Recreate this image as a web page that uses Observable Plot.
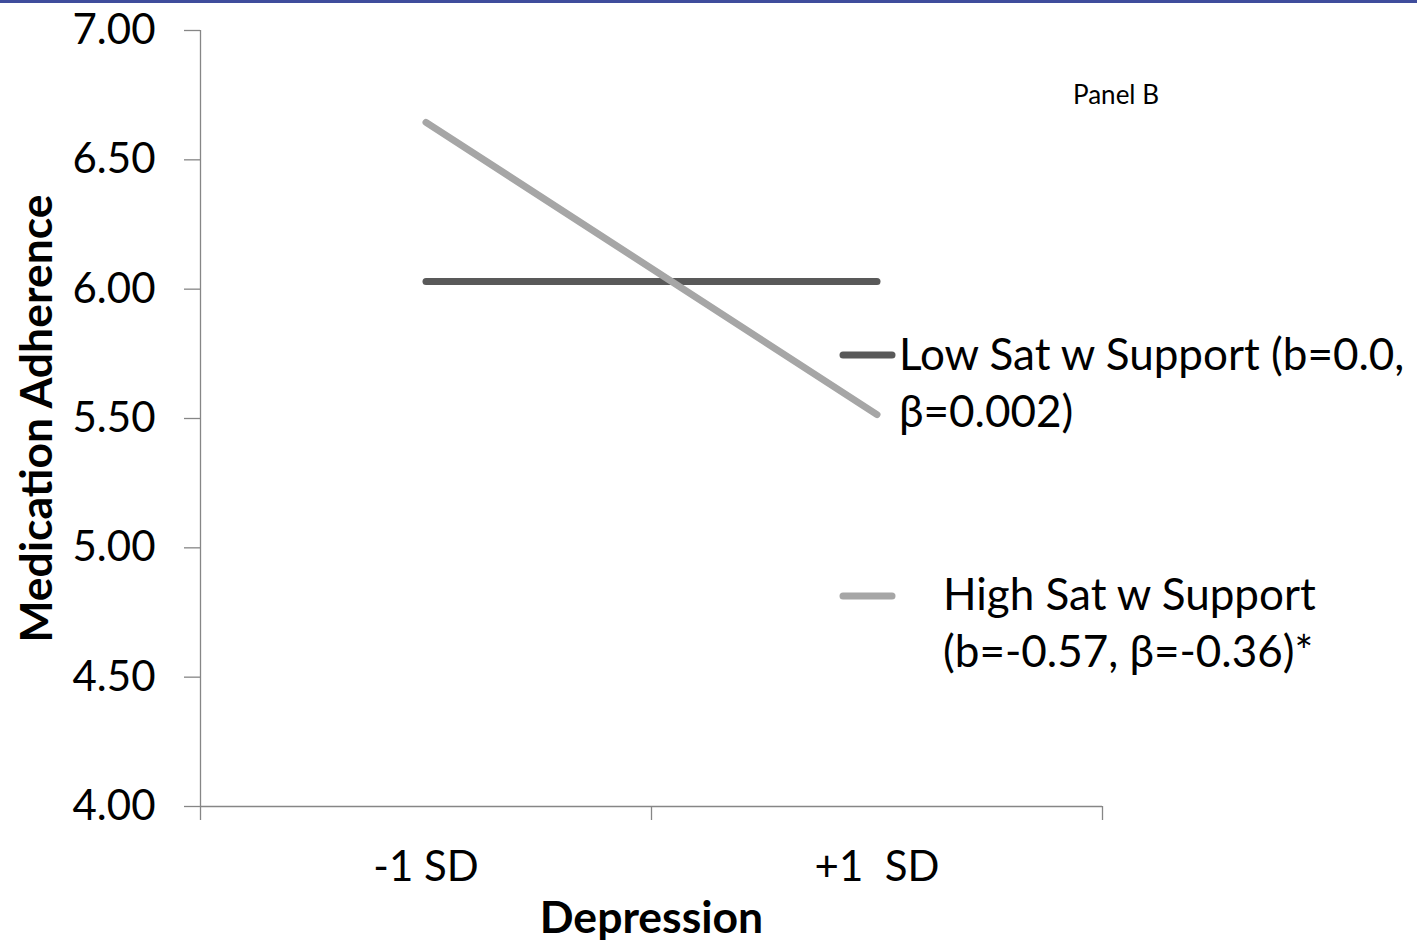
<!DOCTYPE html>
<html>
<head>
<meta charset="utf-8">
<script src="https://cdn.jsdelivr.net/npm/d3@7"></script>
<script src="https://cdn.jsdelivr.net/npm/@observablehq/plot@0.6"></script>
<style>
  html, body { margin: 0; padding: 0; background: #fff; }
  #wrap { position: relative; width: 1417px; height: 942px; overflow: hidden; }
  #topbar { position: absolute; left: 0; top: 0; width: 1417px; height: 3px; background: #3f4d9c; z-index: 2; }
  svg text { white-space: pre; }
</style>
</head>
<body>
<div id="wrap"><div id="topbar"></div><div id="chart"></div></div>
<script>
// ---- data ----
const categories = ["-1 SD", "+1  SD"];
const lowSat = [6.03, 6.03];
const highSat = [6.645, 5.515];
const yTicks = [4.0, 4.5, 5.0, 5.5, 6.0, 6.5, 7.0];
const seriesNames = ["Low Sat w Support", "High Sat w Support"];
const legendLines = [["Low Sat w Support (b=0.0,", "β=0.002)"], ["High Sat w Support", "(b=-0.57, β=-0.36)*"]];
const seriesColors = ["#595959", "#a6a6a6"];
const xTitle = "Depression";
const yTitle = "Medication Adherence";
const panelLabel = "Panel B";

const lowData = categories.map((c, i) => ({cat: c, xi: i + 0.5, value: lowSat[i]}));
const highData = categories.map((c, i) => ({cat: c, xi: i + 0.5, value: highSat[i]}));
const catPos = categories.map((c, i) => i + 0.5);
const bandEdges = d3.range(categories.length + 1);

const FONT = "Lato, 'Open Sans', sans-serif";

function legendMark(index, scales, values, dims) {
  const g = d3.create("svg:g").attr("font-family", FONT).attr("fill", "#000").attr("text-anchor", "start");
  // item 1
  g.append("line").attr("x1", 843).attr("x2", 892).attr("y1", 355).attr("y2", 355)
    .attr("stroke", seriesColors[0]).attr("stroke-width", 7).attr("stroke-linecap", "round");
  const t1 = g.append("text").attr("font-size", 44);
  t1.append("tspan").attr("x", 899).attr("y", 370).text(legendLines[0][0]);
  t1.append("tspan").attr("x", 899).attr("y", 427).text(legendLines[0][1]);
  // item 2
  g.append("line").attr("x1", 843).attr("x2", 892).attr("y1", 596).attr("y2", 596)
    .attr("stroke", seriesColors[1]).attr("stroke-width", 7).attr("stroke-linecap", "round");
  const t2 = g.append("text").attr("font-size", 44);
  t2.append("tspan").attr("x", 943).attr("y", 610).text(legendLines[1][0]);
  t2.append("tspan").attr("x", 943).attr("y", 667).text(legendLines[1][1]);
  // panel label
  g.append("text").attr("x", 1073).attr("y", 104).attr("font-size", 26).text(panelLabel);
  return g.node();
}

const chart = Plot.plot({
  width: 1417,
  height: 942,
  marginLeft: 200,
  marginRight: 315,
  marginTop: 30,
  marginBottom: 136,
  x: {domain: [0, categories.length], axis: null},
  y: {domain: [4, 7], axis: null},
  style: {fontFamily: FONT, background: "white", color: "black", overflow: "visible"},
  marks: [
    // y tick marks
    Plot.axisY({ticks: yTicks, tickSize: 16, tickFormat: () => "", stroke: "#868686", strokeWidth: 1.3, label: null}),
    // y tick labels
    Plot.axisY({ticks: yTicks, tickSize: 0, tickPadding: 45, tickFormat: d => d.toFixed(2), fontSize: 42, fill: "black", label: null}),
    // x tick marks at category boundaries
    Plot.axisX({ticks: bandEdges, tickSize: 14, tickFormat: () => "", stroke: "#868686", strokeWidth: 1.3, label: null}),
    // x category labels
    Plot.axisX({ticks: catPos, tickSize: 0, tickPadding: 45, tickFormat: d => categories[Math.floor(d)], fontSize: 42, fill: "black", label: null}),
    // axis lines
    Plot.ruleY([4], {stroke: "#868686", strokeWidth: 1.3}),
    Plot.ruleX([0], {stroke: "#868686", strokeWidth: 1.3}),
    // series lines
    Plot.line(lowData, {x: "xi", y: "value", stroke: seriesColors[0], strokeWidth: 7, strokeLinecap: "round"}),
    Plot.line(highData, {x: "xi", y: "value", stroke: seriesColors[1], strokeWidth: 7, strokeLinecap: "round"}),
    // axis titles
    Plot.text([yTitle], {frameAnchor: "left", textAnchor: "middle", rotate: -90, dx: -163, fontSize: 44.5, fontWeight: "bold", fill: "black", text: d => d}),
    Plot.text([xTitle], {frameAnchor: "bottom", textAnchor: "middle", dy: 126, fontSize: 44.5, fontWeight: "bold", fill: "black", text: d => d}),
    legendMark
  ]
});
document.getElementById("chart").appendChild(chart);
</script>
</body>
</html>
